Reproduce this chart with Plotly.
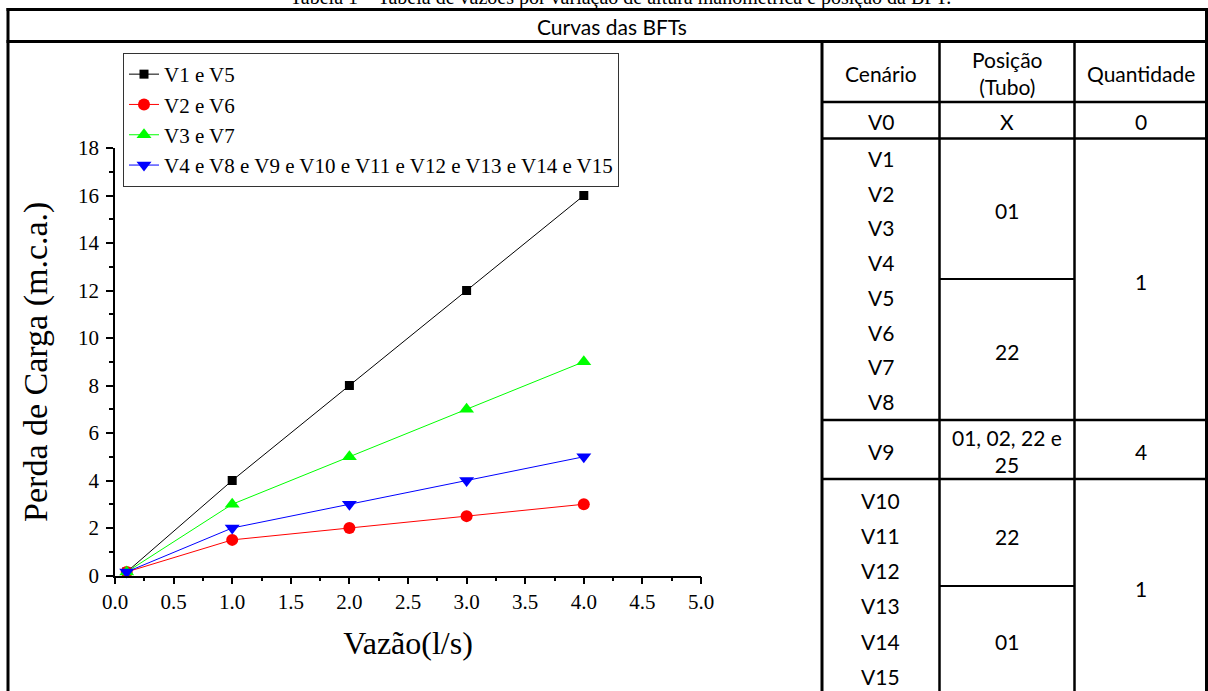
import plotly.graph_objects as go

W, H = 1208, 691

# ---------------- data ----------------
caption = "Tabela 1 – Tabela de vazões por variação de altura manométrica e posição da BFT."
panel_title = "Curvas das BFTs"

vazao = [0.1, 1, 2, 3, 4]
series_names = ["V1 e V5", "V2 e V6", "V3 e V7",
                "V4 e V8 e V9 e V10 e V11 e V12 e V13 e V14 e V15"]
perda_v1_v5 = [0.15, 4, 8, 12, 16]
perda_v2_v6 = [0.15, 1.5, 2, 2.5, 3]
perda_v3_v7 = [0.15, 3, 5, 7, 9]
perda_v4_outros = [0.15, 2, 3, 4, 5]

x_title = "Vazão(l/s)"
y_title = "Perda de Carga (m.c.a.)"

table_headers = ["Cenário", "Posição<br>(Tubo)", "Quantidade"]
cenarios = ["V0", "V1", "V2", "V3", "V4", "V5", "V6", "V7", "V8",
            "V9", "V10", "V11", "V12", "V13", "V14", "V15"]
posicoes = ["X", "01", "22", "01, 02, 22 e<br>25", "22", "01"]
quantidades = ["0", "1", "4", "1"]

# ---------------- layout geometry (pixels) ----------------
def px(x):
    return x / W

def py(y):
    return 1 - y / H

SERIF = "Liberation Serif, Times New Roman, serif"
SANS = "Lato, Carlito, Calibri, sans-serif"

plot_left, plot_right = 115, 701
plot_top, plot_bottom = 148, 575.5

series_styles = [
    dict(color="#000000", symbol="square", size=9),
    dict(color="#FF0000", symbol="circle", size=12),
    dict(color="#00FF00", symbol="triangle-up", size=13),
    dict(color="#0000FF", symbol="triangle-down", size=13),
]

fig = go.Figure()
for name, vals, st in zip(series_names,
                          [perda_v1_v5, perda_v2_v6, perda_v3_v7, perda_v4_outros],
                          series_styles):
    fig.add_trace(go.Scatter(
        x=vazao, y=vals, name=name, mode="lines+markers",
        line=dict(color=st["color"], width=1),
        marker=dict(color=st["color"], symbol=st["symbol"], size=st["size"],
                    line=dict(width=0)),
        cliponaxis=False,
    ))

axis_common = dict(
    showline=True, linecolor="black", linewidth=1.5,
    ticks="outside", ticklen=7, tickwidth=1.5, tickcolor="black",
    showgrid=False, zeroline=False, mirror=False, automargin=False,
    tickfont=dict(family=SERIF, size=21, color="black"),
)

fig.update_layout(
    width=W, height=H,
    margin=dict(l=0, r=0, t=0, b=0, pad=0, autoexpand=False),
    paper_bgcolor="white", plot_bgcolor="white",
    showlegend=True,
    legend=dict(
        x=px(123), y=py(53), xanchor="left", yanchor="top",
        bordercolor="#333333", borderwidth=1, bgcolor="white",
        font=dict(family=SERIF, size=21, color="black"),
        tracegroupgap=0,
    ),
    xaxis=dict(
        domain=[px(plot_left), px(plot_right)], range=[0, 5],
        tick0=0, dtick=0.5, tickformat=".1f",
        minor=dict(ticks="outside", ticklen=4, dtick=0.25, tick0=0,
                   tickcolor="black", tickwidth=1.5, showgrid=False),
        title=dict(text=x_title, font=dict(family=SERIF, size=32, color="black"),
                   standoff=18),
        **axis_common,
    ),
    yaxis=dict(
        domain=[py(plot_bottom), py(plot_top)], range=[0, 18],
        tick0=0, dtick=2, ticklabelstandoff=3,
        minor=dict(ticks="outside", ticklen=4, dtick=1, tick0=0,
                   tickcolor="black", tickwidth=1.5, showgrid=False),
        title=dict(text=y_title, font=dict(family=SERIF, size=34, color="black"),
                   standoff=20),
        **axis_common,
    ),
)

# ---------------- table borders ----------------
def hline(y, x0, x1, w):
    fig.add_shape(type="line", xref="paper", yref="paper",
                  x0=px(x0), x1=px(x1), y0=py(y), y1=py(y),
                  line=dict(color="black", width=w), layer="above")

def vline(x, y0, y1, w):
    fig.add_shape(type="line", xref="paper", yref="paper",
                  x0=px(x), x1=px(x), y0=py(y0), y1=py(y1),
                  line=dict(color="black", width=w), layer="above")

L, R = 8, 1206.5
C0, C1, C2 = 822, 939.5, 1074.5
hline(9.5, L - 1.5, R + 1.5, 3)
hline(41.5, L - 1.5, R + 1.5, 3)
vline(L, 8, H, 3)
vline(R, 8, H, 3)
vline(C0, 41.5, H, 3)
vline(C1, 41.5, H, 2.5)
vline(C2, 41.5, H, 2.5)
for y in [102, 138.5, 420, 479]:
    hline(y, C0, R, 2.5)
for y in [279, 586]:
    hline(y, C1, C2, 2)

# ---------------- texts ----------------
def text(x, y, s, family=SANS, size=21):
    fig.add_annotation(xref="paper", yref="paper", x=px(x), y=py(y), text=s,
                       showarrow=False, xanchor="center", yanchor="middle",
                       font=dict(family=family, size=size, color="black"))

text(620, -3, caption, family=SERIF, size=20)
text(612, 26, panel_title)

col_centers = [(C0 + C1) / 2, (C1 + C2) / 2, (C2 + R) / 2]
header_y = [73, 73, 73]
for cx, hy, h in zip(col_centers, header_y, table_headers):
    text(cx, hy, h)

cenario_y = [121, 158, 193, 227, 262, 297, 332, 367, 402,
             451, 500, 535, 570, 605, 641, 676]
for cy, c in zip(cenario_y, cenarios):
    text(col_centers[0], cy, c)

posicao_y = [121, 210, 351, 451, 536, 641]
for yy, p in zip(posicao_y, posicoes):
    text(col_centers[1], yy, p)

quantidade_y = [121, 281, 451, 588]
for yy, q in zip(quantidade_y, quantidades):
    text(col_centers[2], yy, q)

fig.write_html("out.html")
